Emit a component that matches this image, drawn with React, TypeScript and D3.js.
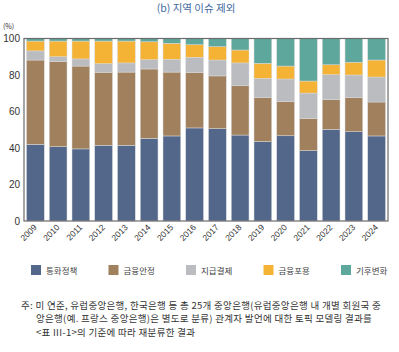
import * as d3 from 'd3';
import { useEffect, useRef } from "react";

const years = ["2009", "2010", "2011", "2012", "2013", "2014", "2015", "2016",
    "2017", "2018", "2019", "2020", "2021", "2022", "2023", "2024"];
const seriesNames = ["통화정책", "금융안정", "지급결제", "금융포용", "기후변화"];
const monetary = [42, 40.7, 39.5, 41.5, 41.5, 45.3, 46.6, 51, 50.6, 47.1, 43.5, 46.7, 38.5, 50.2, 48.9, 46.6];
const stability = [46.2, 46.6, 45.4, 40, 40.1, 38, 35, 30.3, 28.9, 27, 24.1, 18.7, 17.6, 16.3, 18.7, 18.6];
const payments = [5, 2.7, 3.9, 4.7, 5, 5.1, 7, 8.4, 8.7, 12.5, 10.6, 12.4, 14, 13.7, 12.4, 13.7];
const inclusion = [5.4, 8.6, 9.8, 12.4, 12, 9.8, 8.8, 6.9, 7.3, 7.1, 8.2, 7.1, 6.6, 5.4, 7, 9.3];
const climate = [1.4, 1.4, 1.4, 1.4, 1.4, 1.8, 2.6, 3.4, 4.5, 6.3, 13.6, 15.1, 23.3, 14.4, 13, 11.8];
const yTicks = [0, 20, 40, 60, 80, 100];
const colors = ["#53678b", "#a0805d", "#bbbcc0", "#f5b335", "#5ea79c"];

const App = () => {
    const ref = useRef<SVGSVGElement>(null);

    useEffect(() => {
        const svg = d3.select(ref.current);
        svg.selectAll("*").remove();

        const left = 24, right = 388, top = 38.5, bottom = 221;

        const rows = years.map((y, i) => ({
            year: y,
            "통화정책": monetary[i],
            "금융안정": stability[i],
            "지급결제": payments[i],
            "금융포용": inclusion[i],
            "기후변화": climate[i],
        }));
        const stacked = d3.stack<any>().keys(seriesNames)(rows);

        const x = d3.scaleBand()
            .domain(years)
            .range([left, right])
            .paddingInner(0.22)
            .paddingOuter(0.11);
        const y = d3.scaleLinear().domain([0, 100]).range([bottom, top]);

        // 제목
        svg.append("text")
            .attr("x", 196).attr("y", 12)
            .attr("text-anchor", "middle")
            .attr("font-size", 10.5)
            .attr("fill", "#3f6aa0")
            .text("(b) 지역 이슈 제외");

        svg.append("text")
            .attr("x", 3).attr("y", 29)
            .attr("font-size", 7)
            .attr("fill", "#333")
            .text("(%)");

        // 막대
        const g = svg.append("g");
        stacked.forEach((s, k) => {
            g.selectAll(null)
                .data(s)
                .enter().append("rect")
                .attr("x", (d: any) => x(d.data.year)!)
                .attr("y", d => y(Math.min(d[1], 100)))
                .attr("width", x.bandwidth())
                .attr("height", d => y(d[0]) - y(Math.min(d[1], 100)))
                .attr("fill", colors[k])
                .attr("stroke", "#d9d9d9")
                .attr("stroke-width", 0.5);
        });

        // 축
        const yAxis = svg.append("g")
            .attr("transform", `translate(${left},0)`)
            .call(d3.axisLeft(y).tickValues(yTicks).tickSize(0).tickPadding(4));
        yAxis.select(".domain").remove();
        yAxis.selectAll("text")
            .attr("font-size", 10)
            .attr("fill", "#333")
            .attr("font-family", "'Liberation Sans', sans-serif");

        const xAxis = svg.append("g")
            .attr("transform", `translate(0,${bottom})`)
            .call(d3.axisBottom(x).tickSize(0).tickPadding(0));
        xAxis.select(".domain").remove();
        xAxis.selectAll("text")
            .attr("font-size", 8.5)
            .attr("fill", "#333")
            .attr("font-family", "'Liberation Sans', sans-serif")
            .attr("text-anchor", "end")
            .attr("dy", 0)
            .attr("transform", "translate(2,7) rotate(-45)");

        // 테두리
        svg.append("rect")
            .attr("x", left).attr("y", top)
            .attr("width", right - left).attr("height", bottom - top)
            .attr("fill", "none")
            .attr("stroke", "#6b6b6b")
            .attr("stroke-width", 1.2);

        // 범례
        const legend = svg.append("g");
        seriesNames.forEach((name, i) => {
            const lx = 31 + i * 77.5;
            legend.append("rect")
                .attr("x", lx).attr("y", 265)
                .attr("width", 10).attr("height", 10)
                .attr("fill", colors[i]);
            legend.append("text")
                .attr("x", lx + 15).attr("y", 273.5)
                .attr("font-size", 8.5)
                .attr("fill", "#444")
                .text(name);
        });

        // 주석
        const notes = [
            { x: 21, text: "주: 미 연준, 유럽중앙은행, 한국은행 등 총 25개 중앙은행(유럽중앙은행 내 개별 회원국 중" },
            { x: 36, text: "앙은행(예. 프랑스 중앙은행)은 별도로 분류) 관계자 발언에 대한 토픽 모델링 결과를" },
            { x: 36, text: "<표 III-1>의 기준에 따라 재분류한 결과" },
        ];
        notes.forEach((n, i) => {
            svg.append("text")
                .attr("x", n.x).attr("y", 308.5 + i * 13.8)
                .attr("font-size", 9.5)
                .attr("letter-spacing", 0.3)
                .attr("fill", "#333")
                .text(n.text);
        });
    }, []);

    return (
        <svg ref={ref} width={399} height={352}
            style={{ position: "absolute", left: 0, top: 0, fontFamily: "'Noto Sans CJK KR', sans-serif", background: "#fff" }} />
    );
}

export default App;
